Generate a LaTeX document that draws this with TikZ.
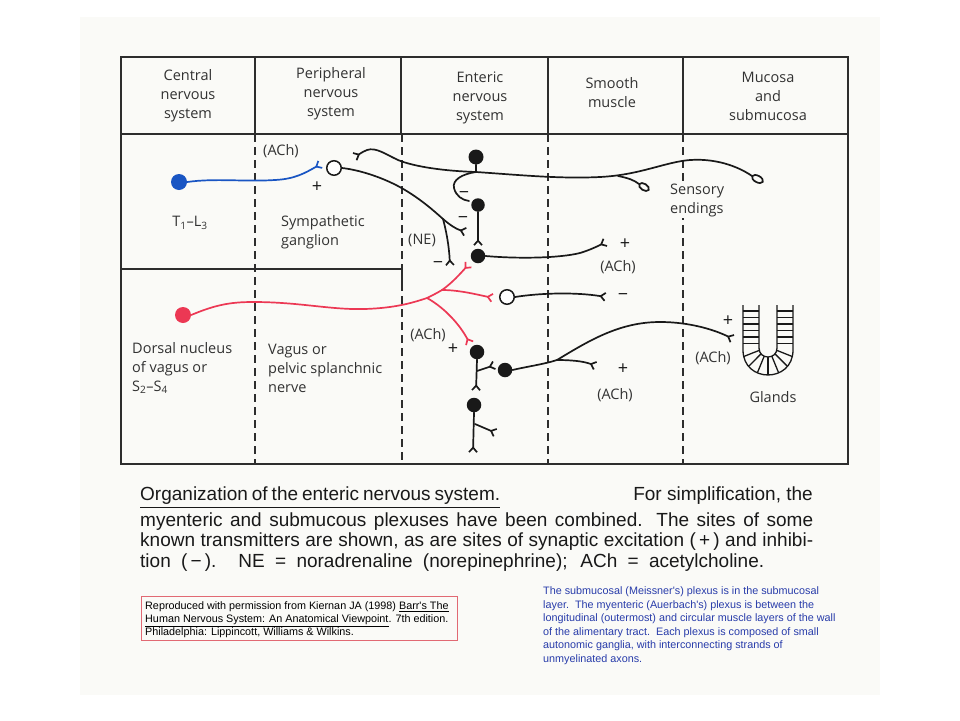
\documentclass[tikz,border=0pt]{standalone}
\usepackage{fontspec}
\setmainfont{Open Sans}
\newfontfamily\capfont{Liberation Sans}
\usetikzlibrary{arrows.meta}
\definecolor{ink}{RGB}{25,25,25}
\definecolor{grid}{RGB}{45,45,45}
\definecolor{nblue}{RGB}{25,85,195}
\definecolor{nred}{RGB}{236,56,84}
\definecolor{txtblue}{RGB}{40,60,170}
\definecolor{boxred}{RGB}{225,105,115}
\definecolor{bgc}{RGB}{250,250,247}
\definecolor{labc}{RGB}{50,50,50}
\begin{document}
\begin{tikzpicture}[x=1pt,y=-1pt,
  frame/.style={draw=grid, line width=1.4pt},
  dline/.style={draw=grid, line width=1.4pt, dash pattern=on 8pt off 5pt},
  ax/.style={draw=ink, line width=1.7pt, line cap=round},
  fk/.style={-{Straight Barb[reversed,length=4.5pt,width=8pt]}},
  cell/.style={circle, fill=ink, inner sep=0pt, minimum size=14.5pt},
  gang/.style={circle, draw=ink, line width=1.5pt, fill=white, inner sep=0pt, minimum size=14.5pt},
  lbl/.style={text=labc, font=\fontsize{14.5}{19}\selectfont, inner sep=0pt},
  sgn/.style={text=ink, font=\fontsize{18}{18}\selectfont, inner sep=0pt},
  capt/.style={text=ink, font=\capfont\fontsize{19}{21}\selectfont, inner sep=0pt, anchor=base west},
  note/.style={font=\capfont\fontsize{10.8}{13}\selectfont, inner sep=0pt, anchor=base west},
]
\useasboundingbox (0,0) rectangle (960,720);
\fill[white] (0,0) rectangle (960,720);
\fill[bgc] (80,17) rectangle (880,695);

% table
\draw[frame] (121,57) rectangle (848,464);
\draw[frame] (121,134) -- (848,134);
\foreach \x in {255,401,548,683} \draw[frame] (\x,57) -- (\x,134);
\foreach \x in {255,548,683} \draw[dline] (\x,134) -- (\x,464);
\draw[dline] (402,134) -- (402,269);
\draw[dline] (402,283) -- (402,464);
\draw[frame] (121,269) -- (402,269) -- (402,283);

% headers
\node[lbl, align=center] (h1) at (188,96) {Central\\nervous\\system};
\node[lbl, align=center] (h2) at (331,94) {Peripheral\\nervous\\system};
\node[lbl, align=center] (h3) at (480,98) {Enteric\\nervous\\system};
\node[lbl, align=center] (h4) at (612,93) {Smooth\\muscle};
\node[lbl, align=center] (h5) at (768,96) {Mucosa\\and\\submucosa};

% left labels
\node[lbl] (t1) at (190,223) {T\textsubscript{1}–L\textsubscript{3}};
\node[lbl, align=left, anchor=west] (t2) at (281,232) {Sympathetic\\ganglion};
\node[lbl, align=left, anchor=west] (t3) at (132,368) {Dorsal nucleus\\of vagus or\\S\textsubscript{2}–S\textsubscript{4}};
\node[lbl, align=left, anchor=west] (t4) at (268,368) {Vagus or\\pelvic splanchnic\\nerve};
\node[lbl, align=left, anchor=west, fill=bgc, inner sep=2pt] (t5) at (668,200) {Sensory\\endings};
\node[lbl] (t6) at (773,397) {Glands};
\node[lbl] (t7) at (422,240) {(NE)};
\node[lbl] (a1) at (281,151) {(ACh)};
\node[lbl] (a2) at (618,267) {(ACh)};
\node[lbl] (a3) at (428,335) {(ACh)};
\node[lbl] (a4) at (713,358) {(ACh)};
\node[lbl] (a5) at (615,395) {(ACh)};

% signs
\node[sgn] (s1) at (317,187) {+};
\node[sgn] (s2) at (464,195) {−};
\node[sgn] (s3) at (463,220) {−};
\node[sgn] (s4) at (438,265) {−};
\node[sgn] (s5) at (625,244) {+};
\node[sgn] (s6) at (623,297) {−};
\node[sgn] (s7) at (453,349) {+};
\node[sgn] (s8) at (728,321) {+};
\node[sgn] (s9) at (623,369) {+};

% cells
\node[cell, fill=nblue, minimum size=16pt] (b1) at (179,182) {};
\node[cell, fill=nred, minimum size=16pt] (r1) at (183,315) {};
\node[gang] (g1) at (334,168) {};
\node[gang] (g2) at (507,297) {};
\node[cell, minimum size=15pt] (c1) at (476,157) {};
\node[cell, minimum size=13.5pt] (c2) at (478,205) {};
\node[cell] (c3) at (478,256) {};
\node[cell] (c4) at (477,352) {};
\node[cell] (c5) at (505,370) {};
\node[cell] (c6) at (474,405) {};
\coordinate (j1) at (476,172);
\coordinate (n1) at (443,219);
\coordinate (rb1) at (427,298);
\coordinate (rb2) at (442,290);
\coordinate (j5) at (557,360);

% blue preganglionic axon
\draw[ax, draw=nblue, fk] (b1.east) .. controls (215,178) and (245,182) .. (275,180) .. controls (295,179) and (305,173) .. (321,164);

% sensory neuron
\draw[ax] (c1.south) -- (j1);
\draw[ax, fk] (j1) .. controls (445,171) and (415,167) .. (398,160) .. controls (385,154) and (376,147) .. (367,150) .. controls (362,152) and (358,155) .. (354,157);
\draw[ax] (j1) .. controls (520,175) and (560,179) .. (600,177) .. controls (640,175) and (665,162) .. (690,160) .. controls (720,158) and (742,169) .. (752,176);
\draw[ax, rotate around={-28:(757.5,179)}] (757.5,179) ellipse [x radius=6, y radius=3.3];
\draw[ax] (618,176) .. controls (628,178) and (634,180) .. (639,184);
\draw[ax, rotate around={-32:(644,187)}] (644,187) ellipse [x radius=5.5, y radius=3.2];
\draw[ax] (j1) .. controls (462,174) and (452,180) .. (454,188) .. controls (456,196) and (462,200) .. (469,201);

% sympathetic postganglionic (NE)
\draw[ax] (g1.east) .. controls (360,170) and (385,178) .. (405,190) .. controls (420,199) and (432,209) .. (n1);
\draw[ax, fk] (n1) .. controls (450,225) and (456,229) .. (466,232);
\draw[ax, fk] (n1) .. controls (446,230) and (449,245) .. (450,266);

% enteric cells
\draw[ax, fk] (c2.south) -- (478,246);
\draw[ax, fk] (c3.east) .. controls (520,259) and (560,258) .. (580,253) .. controls (590,250) and (598,246) .. (606,242);

% red preganglionic
\draw[ax, draw=nred] (r1.east) .. controls (215,305) and (230,302) .. (253,302) .. controls (300,302) and (330,310) .. (365,309) .. controls (395,308) and (412,303) .. (rb1) .. controls (433,295) and (437,293) .. (rb2);
\draw[ax, draw=nred, fk] (rb2) .. controls (452,283) and (460,274) .. (469,264);
\draw[ax, draw=nred, fk] (rb2) .. controls (458,290) and (475,294) .. (493,298);
\draw[ax, draw=nred, fk] (rb1) .. controls (445,308) and (460,325) .. (470,344);

\draw[ax, fk] (g2.east) .. controls (540,293) and (575,292) .. (606,297);

\draw[ax, fk] (c4.south) -- (476,391);
\draw[ax, fk] (477,371) -- (495,365);
\draw[ax] (c5.east) .. controls (525,367) and (545,364) .. (j5);
\draw[ax, fk] (j5) .. controls (570,360) and (583,361) .. (596,366);
\draw[ax, fk] (j5) .. controls (590,340) and (620,322) .. (660,322) .. controls (690,322) and (715,330) .. (733,339);
\draw[ax, fk] (c6.south) -- (473,453);
\draw[ax, fk] (475,424) -- (496,433);

% glands
\begin{scope}[line width=1.3pt, draw=ink]
\draw (743,305) -- (743,350) .. controls (743,383.3) and (793,383.3) .. (793,350) -- (793,305);
\draw (759,305) -- (759,348) .. controls (759,360) and (777,360) .. (777,348) -- (777,305);
\foreach \y in {311,317.5,324,330.5,337,343.5} {\draw (743,\y) -- (759,\y); \draw (777,\y) -- (793,\y);}
\foreach \a in {15,40,65,90,115,140,165} \draw ({768+9*cos(\a)},{348+9*sin(\a)}) -- ({768+25*cos(\a)},{350+25*sin(\a)});
\end{scope}

% caption
\node[capt] (k1) at (140,500) {\makebox[360pt][s]{Organization of the enteric nervous system.}};
\draw[ink, line width=1pt] (140,507.5) -- (500,507.5);
\node[capt, anchor=base east] (k2) at (813,500) {For simplification, the};
\node[capt] (k3) at (140,526) {\makebox[673pt][s]{myenteric and submucous plexuses have been combined. The sites of some}};
\node[capt] (k4) at (140,546.5) {\makebox[673pt][s]{known transmitters are shown, as are sites of synaptic excitation (\,+\,) and inhibi-}};
\node[capt] (k5) at (140,567) {\makebox[624pt][s]{tion (\,−\,). NE = noradrenaline (norepinephrine); ACh = acetylcholine.}};

% reference box
\draw[boxred, line width=0.8pt] (141,596) rectangle (457,640);
\node[note] (r1a) at (145,609.5) {Reproduced with permission from Kiernan JA (1998) \underline{Barr's The}};
\node[note] (r1b) at (145,622.5) {\underline{Human Nervous System: An Anatomical Viewpoint}. 7th edition.};
\node[note] (r1c) at (145,635.5) {Philadelphia: Lippincott, Williams \& Wilkins.};

% blue note
\node[note, text=txtblue] (bn1) at (543,594.5) {The submucosal (Meissner's) plexus is in the submucosal};
\node[note, text=txtblue] (bn2) at (543,608) {layer.\ \ The myenteric (Auerbach's) plexus is between the};
\node[note, text=txtblue] (bn3) at (543,621.5) {longitudinal (outermost) and circular muscle layers of the wall};
\node[note, text=txtblue] (bn4) at (543,635) {of the alimentary tract.\ \ Each plexus is composed of small};
\node[note, text=txtblue] (bn5) at (543,648.5) {autonomic ganglia, with interconnecting strands of};
\node[note, text=txtblue] (bn6) at (543,662) {unmyelinated axons.};
\end{tikzpicture}
\end{document}
